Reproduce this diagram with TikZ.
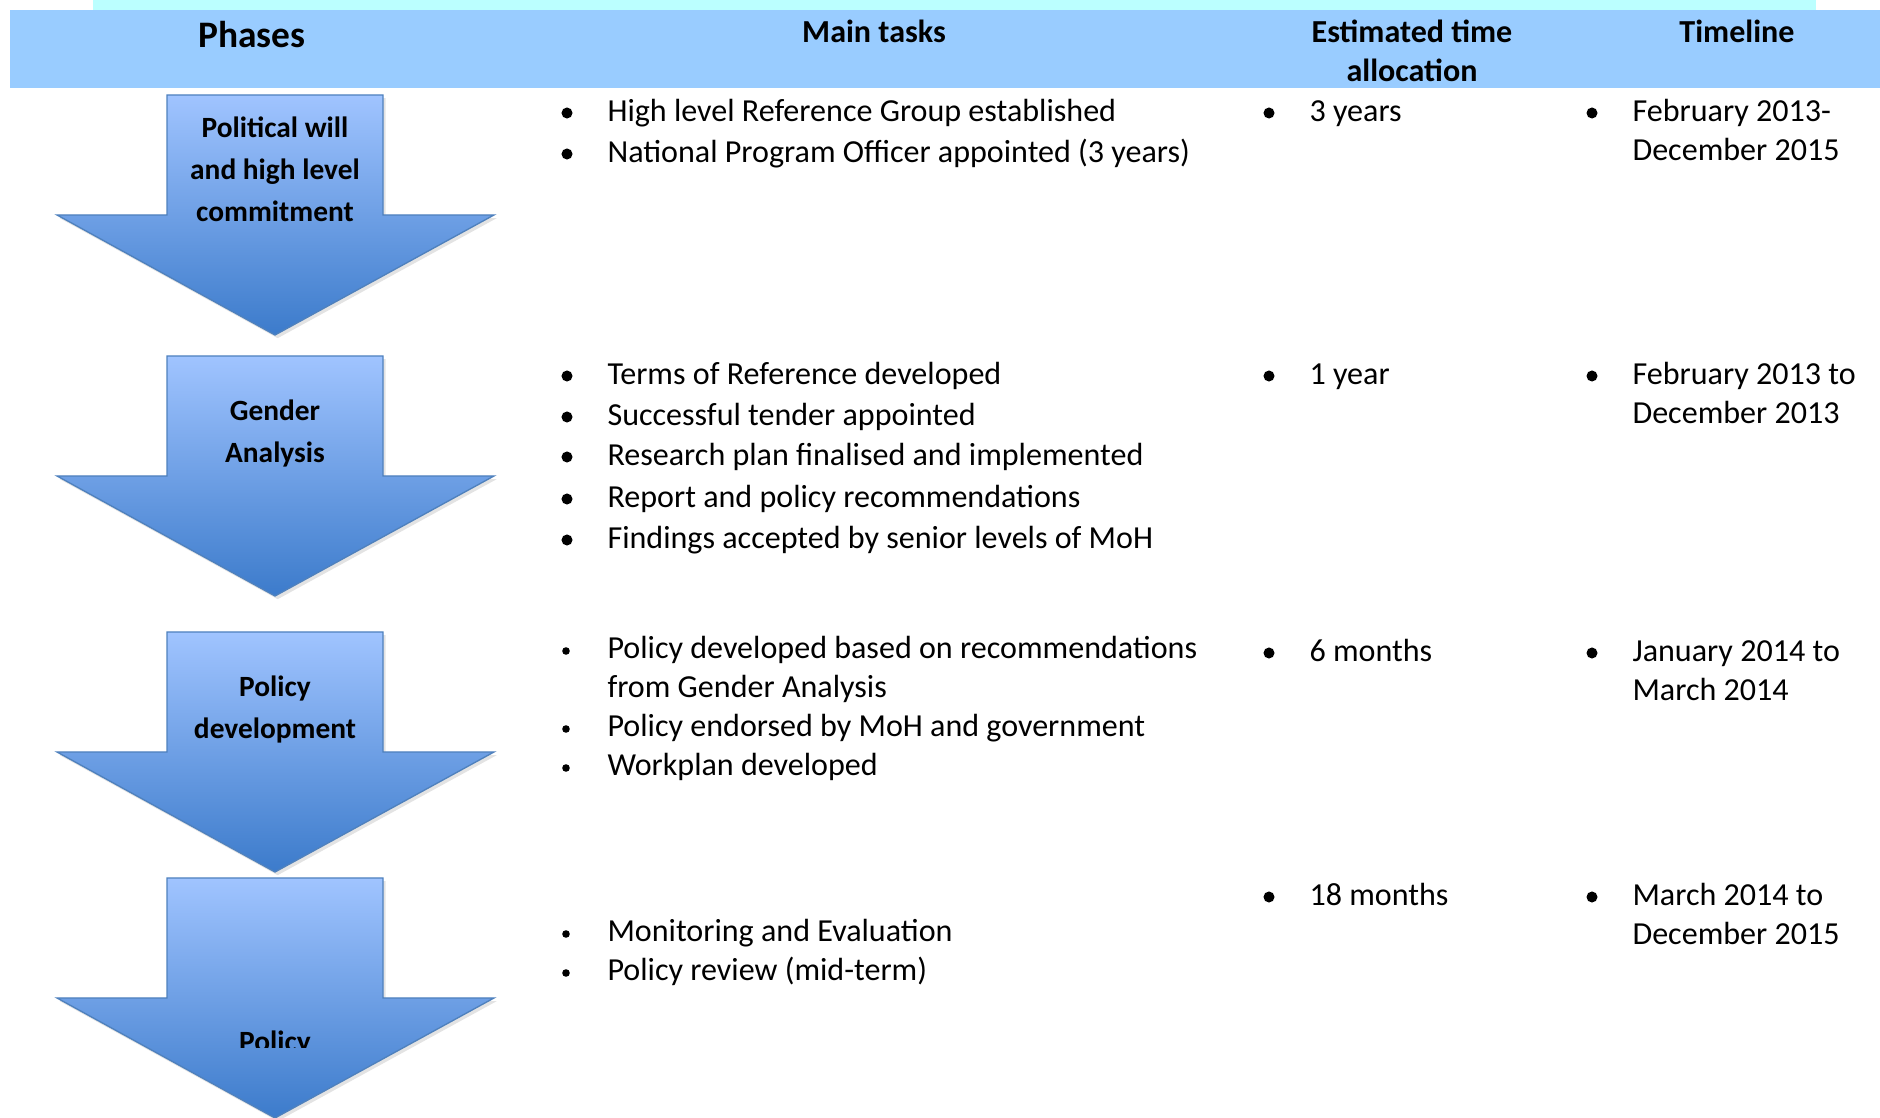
\documentclass[tikz,border=0pt]{standalone}
\usepackage{fontspec}
\setmainfont{Carlito}
\usepackage{xcolor}
\usepackage{tikz}
\usetikzlibrary{shadows}
\definecolor{headblue}{HTML}{99CCFF}
\definecolor{titlecyan}{HTML}{BBFFFF}
\definecolor{arrowtop}{HTML}{A0C4FF}
\definecolor{arrowbottom}{HTML}{3C7BCB}
\definecolor{arrowedge}{HTML}{4F81BD}
\tikzset{
  phasearrow/.style={
    draw=arrowedge,
    line width=0.5pt,
    top color=arrowtop,
    bottom color=arrowbottom,
    drop shadow={opacity=0.22, shadow xshift=1pt, shadow yshift=-1.2pt}
  },
  phasetext/.style={
    anchor=base,
    inner sep=0pt,
    font=\fontsize{11}{13}\selectfont\bfseries
  },
  headtext/.style={
    anchor=base,
    inner sep=0pt,
    font=\fontsize{12}{14.6}\selectfont\bfseries
  },
  tasktext/.style={
    anchor=base west,
    inner sep=0pt,
    font=\fontsize{12}{14.6}\selectfont
  },
  bigdot/.style={
    circle,
    fill=black,
    inner sep=0pt,
    minimum size=0.145cm
  },
  smalldot/.style={
    circle,
    fill=black,
    inner sep=0pt,
    minimum size=0.1cm
  }
}

\begin{document}
\begin{tikzpicture}[x=0.01316cm, y=-0.01316cm]
    \useasboundingbox (0,0) rectangle (1880,1118);
    \fill[titlecyan] (93,0) rectangle (1816,10);
    \fill[headblue] (10,10) rectangle (1880,88);
    \node[headtext, font=\fontsize{14}{17}\selectfont\bfseries] (hphase) at (252,48) {Phases};
    \node[headtext] (htask) at (874,43) {Main tasks};
    \node[headtext] (htime) at (1412,43) {Estimated time};
    \node[headtext] (htimeb) at (1412,82) {allocation};
    \node[headtext] (hline) at (1737,43) {Timeline};
    % phase arrows
    \foreach \t in {95,356,632,878}
      \draw[phasearrow] (167,\t) -- (383,\t) -- (383,\t+120) -- (494,\t+120)
        -- (275,\t+240) -- (57,\t+120) -- (167,\t+120) -- cycle;
    \foreach \y/\txt [count=\i] in {138/Political will,180/and high level,222/commitment,
        421/Gender,463/Analysis,697/Policy,739/development}
      \node[phasetext] (ph\i) at (275,\y) {\txt};
    \begin{scope}
      \clip (0,0) rectangle (1880,1048);
      \node[phasetext] (ph8) at (275,1052) {Policy};
    \end{scope}
    % main tasks
    \foreach \y/\txt [count=\i] in {122/High level Reference Group established,
        163/National Program Officer appointed (3 years),
        385/Terms of Reference developed,426/Successful tender appointed,
        466/Research plan finalised and implemented,
        508/Report and policy recommendations,
        549/Findings accepted by senior levels of MoH} {
      \node[bigdot] (tb\i) at (567,\y-9) {};
      \node[tasktext] (tt\i) at (607,\y) {\txt};
    }
    \foreach \y/\txt [count=\i] in {659/Policy developed based on recommendations,
        737/Policy endorsed by MoH and government,776/Workplan developed,
        942/Monitoring and Evaluation,981/Policy review (mid-term)} {
      \node[smalldot] (sb\i) at (566,\y-8) {};
      \node[tasktext] (st\i) at (607,\y) {\txt};
    }
    \node[tasktext] (stwrap) at (607,698) {from Gender Analysis};
    % time allocation
    \foreach \y/\txt [count=\i] in {122/3 years,385/1 year,662/6 months,906/18 months} {
      \node[bigdot] (eb\i) at (1269,\y-9) {};
      \node[tasktext] (et\i) at (1309,\y) {\txt};
    }
    % timeline
    \foreach \y/\a/\b [count=\i] in {122/February 2013-/December 2015,
        385/February 2013 to/December 2013,662/January 2014 to/March 2014,
        906/March 2014 to/December 2015} {
      \node[bigdot] (lb\i) at (1592,\y-9) {};
      \node[tasktext] (lt\i) at (1632,\y) {\a};
      \node[tasktext] (ltb\i) at (1632,\y+39) {\b};
    }
\end{tikzpicture}
\end{document}
